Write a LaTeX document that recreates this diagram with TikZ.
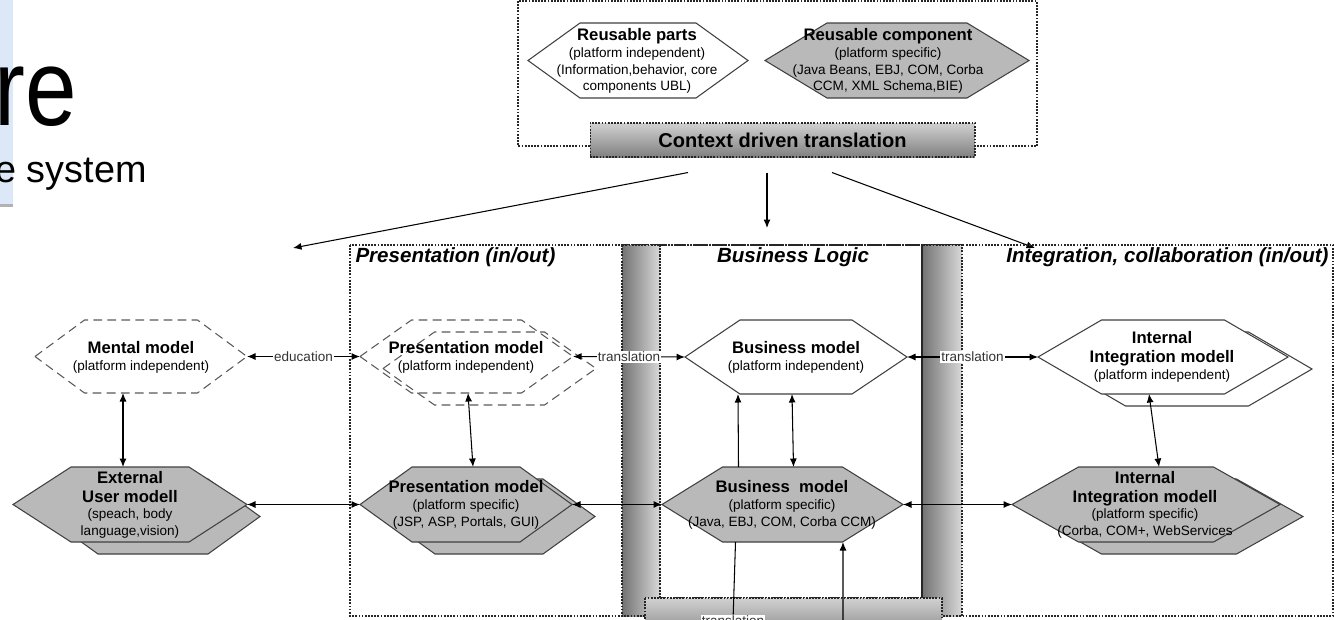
\documentclass[tikz,border=0pt]{standalone}
\usepackage{fontspec}
\setmainfont{Liberation Sans}
\usetikzlibrary{calc}
\usetikzlibrary{arrows.meta}
\tikzset{>={Latex[width=1.4mm,length=1.7mm]}}
\definecolor{slideblue}{RGB}{220,231,247}

\newcommand{\hd}[1]{{\fontsize{9.5}{11}\selectfont\bfseries #1}}
\newcommand{\hexa}[7]{%
  \draw[#1] (#3-#5,#4) -- (#3-#6,#4-#7) -- (#3+#6,#4-#7) -- (#3+#5,#4)
    -- (#3+#6,#4+#7) -- (#3-#6,#4+#7) -- cycle;
  \coordinate (#2-w) at (#3-#5,#4);
  \coordinate (#2-e) at (#3+#5,#4);
  \coordinate (#2-n) at (#3,#4-#7);
  \coordinate (#2-s) at (#3,#4+#7);
}

\tikzset{
  hexw/.style={draw=black!75, fill=white},
  hexg/.style={draw=black!75, fill=gray!55},
  hexd/.style={draw=black!65, dash pattern=on 5pt off 3pt},
  txt/.style={align=center, inner sep=0pt, font=\fontsize{7.7}{9.6}\selectfont},
  lbl/.style={fill=white, inner sep=0.6pt, text=black!80, font=\fontsize{7.7}{9}\selectfont},
  ttl/.style={inner sep=0pt, font=\fontsize{11.7}{14}\selectfont\bfseries\itshape},
  panel/.style={draw=black!85, dash pattern=on 1pt off 0.8pt},
  vbar/.style={panel, left color=black!55, right color=black!15},
  hbar/.style={panel, top color=black!18, bottom color=black!50}
}

\begin{document}
\begin{tikzpicture}[x=0.02cm, y=-0.02cm, line width=0.6pt]
  \useasboundingbox (0,0) rectangle (1334,619);
  \clip (0,0) rectangle (1334,619);

  \fill[slideblue] (0,0) rectangle (13,204);
  \fill[black!30] (0,204) rectangle (13,207);
  \node[anchor=base west, inner sep=0pt, xscale=0.85, font=\fontsize{62}{62}\selectfont] (ttlre) at (-6,125) {re};
  \node[anchor=base west, inner sep=0pt, font=\fontsize{21.5}{22}\selectfont] (ttlsys) at (-5,182) {e system};

  \draw[panel] (518,1) rectangle (1037,146);
  \hexa{hexw}{rparts}{638}{60.5}{110}{58}{37.5}
  \node[txt] (reuse) at (637,61) {\hd{Reusable parts}\\(platform independent)\\(Information,behavior, core\\components UBL)};
  \hexa{hexg}{rcomp}{897}{60.5}{132}{70}{37.5}
  \node[txt] (comp) at (888,61) {\hd{Reusable component}\\(platform specific)\\(Java Beans, EBJ, COM, Corba\\CCM, XML Schema,BIE)};
  \node[hbar, minimum width=7.7cm, minimum height=0.68cm, font=\fontsize{11.4}{13}\selectfont\bfseries] (ctx) at (782.5,140) {Context driven translation};

  \coordinate (toPres) at (293,248);
  \coordinate (toBiz) at (767,228);
  \coordinate (toInt) at (1035,248);
  \draw[->] ($(ctx.south)+(-94.5,15)$) -- (toPres);
  \draw[->] ($(ctx.south)+(-15.5,15)$) -- (toBiz);
  \draw[->] ($(ctx.south)+(49.5,15)$) -- (toInt);

  \draw[panel] (350,245) rectangle (1333,616);
  \draw[vbar] (622,245) rectangle (660,616);
  \draw[vbar] (922,245) rectangle (962,616);
  \draw[panel] (660,245) rectangle (922,598);
  \draw[hbar] (645,598) rectangle (942,640);

  \node[ttl, anchor=west] (prestitle) at (355,257) {Presentation (in/out)};
  \node[ttl] (biztitle) at (793,257) {Business Logic};
  \node[ttl, anchor=east] (inttitle) at (1329,257) {Integration, collaboration (in/out)};

  \hexa{hexd}{mental}{141}{356.5}{106}{56.5}{36.5}
  \node[txt] (mm) at (141,357) {\hd{Mental model}\\(platform independent)};

  \hexa{hexd}{prespib}{489.5}{368.5}{106.5}{55}{36.5}
  \hexa{hexd}{prespi}{466.5}{356.5}{106.5}{55}{36.5}
  \node[txt] (pm1) at (466,357) {\hd{Presentation model}\\(platform independent)};

  \hexa{hexw}{bizpi}{796}{357}{111}{56}{37}
  \node[txt] (bm1) at (796,357) {\hd{Business model}\\(platform independent)};

  \hexa{hexw}{intpib}{1187}{369}{125}{61.5}{37}
  \hexa{hexw}{intpi}{1163}{357}{125}{61.5}{37}
  \node[txt] (im1) at (1162,357) {\hd{Internal}\\[1pt]\hd{Integration modell}\\(platform independent)};

  \hexa{hexg}{extuserb}{153}{516.5}{107}{55}{37.5}
  \hexa{hexg}{extuser}{130}{504.5}{117}{59}{37.5}
  \node[txt] (eu) at (130,505) {\hd{External}\\[1pt]\hd{User modell}\\(speach, body\\language,vision)};

  \hexa{hexg}{prespsb}{489}{516.5}{106}{54}{37.5}
  \hexa{hexg}{presps}{466}{504.5}{106}{54}{37.5}
  \node[txt] (pm2) at (466,505) {\hd{Presentation model}\\(platform specific)\\(JSP, ASP, Portals, GUI)};

  \hexa{hexg}{bizps}{782.5}{504.5}{120.5}{60}{37.5}
  \node[txt] (bm2) at (782,505) {\hd{Business~ model}\\(platform specific)\\(Java, EBJ, COM, Corba CCM)};

  \hexa{hexg}{intpsb}{1169}{516.5}{134}{67.5}{37.5}
  \hexa{hexg}{intps}{1146}{504.5}{134}{67.5}{37.5}
  \node[txt] (im2) at (1145,505) {\hd{Internal}\\[1pt]\hd{Integration modell}\\(platform specific)\\(Corba, COM+, WebServices};

  \draw[<->] (mental-e) -- (prespi-w) node[lbl, midway] (edu) {education};
  \draw[<->] (prespi-e) -- (bizpi-w) node[lbl, midway] (tr1) {translation};
  \draw[<->] (bizpi-e) -- (intpi-w) node[lbl, midway] (tr2) {translation};
  \draw[<->] (extuser-e) -- (presps-w);
  \draw[<->] (presps-e) -- (bizps-w);
  \draw[<->] (bizps-e) -- (intps-w);
  \draw[<->] ($(mental-s)+(-18,0)$) -- ($(extuser-n)+(-7,0)$);
  \draw[<->] ($(prespi-s)+(1.5,0)$) -- ($(presps-n)+(7,0)$);
  \draw[->] ($(bizps-n)+(-44,0)$) -- ($(bizpi-s)+(-58,0)$);
  \draw[<->] ($(bizpi-s)+(-4,0)$) -- ($(bizps-n)+(11,0)$);
  \draw[<->] ($(intpi-s)+(-14,0)$) -- ($(intps-n)+(13,0)$);

  \node[lbl] (tr3) at (733,621) {translation};
  \draw ($(bizps-s)+(-47,0)$) -- (tr3);
  \coordinate (up) at (843,640);
  \draw[->] (up) -- ($(bizps-s)+(60.5,0)$);
\end{tikzpicture}
\end{document}
